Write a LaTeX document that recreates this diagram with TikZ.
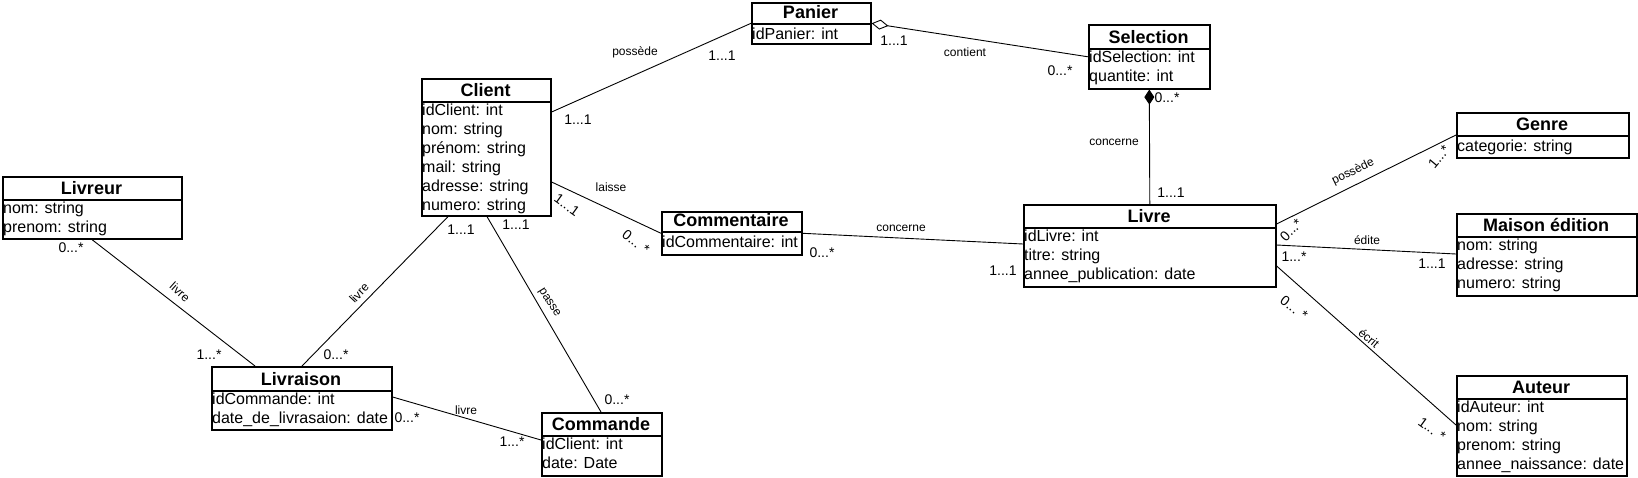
\documentclass[tikz,border=0pt]{standalone}
\usepackage{fontspec}
\setmainfont{Liberation Sans}
\usetikzlibrary{arrows.meta}
\newcommand{\umlclass}[8]{%
  \node[classbox, minimum width={#4-#2}, minimum height={#6-#3}] (#1) at (#2,#3) {};
  \draw[headline] (#2,#5) -- (#4,#5);
  \node[titletext] (#1-title) at ({(#2+#4)/2},{#5-5.5}) {#7};
  \node[attrtext] (#1-attrs) at (#2,#5) {#8};
}
\begin{document}
\begin{tikzpicture}[x=1pt,y=-1pt,
  classbox/.style={draw, line width=1.6pt, inner sep=0pt, anchor=north west},
  headline/.style={line width=1.3pt},
  titletext/.style={font=\fontsize{18}{21}\selectfont\bfseries, anchor=base, inner sep=0pt},
  attrtext/.style={font=\fontsize{16}{19}\selectfont, align=left, anchor=north west, inner xsep=1pt, inner ysep=1.5pt, execute at begin node=\strut},
  conn/.style={line width=0.9pt},
  mult/.style={font=\fontsize{14}{16}\selectfont, inner sep=0pt},
  assoc/.style={font=\fontsize{12}{14}\selectfont, inner sep=0pt},
]
\fill[white] (0,0) rectangle (1638,477);
\useasboundingbox (0,0) rectangle (1638,477);

\umlclass{panier}{751}{2}{870}{24}{43}{Panier}{idPanier: int}
\umlclass{selection}{1088}{24}{1209}{49}{88}{Selection}{idSelection: int\\quantite: int}
\umlclass{client}{421}{78}{550}{102}{215}{Client}{idClient: int\\nom: string\\prénom: string\\mail: string\\adresse: string\\numero: string}
\umlclass{livreur}{2}{176}{181}{200}{238}{Livreur}{nom: string\\prenom: string}
\umlclass{genre}{1456}{112}{1628}{136}{157}{Genre}{categorie: string}
\umlclass{commentaire}{661}{211}{801}{232}{254}{Commentaire}{idCommentaire: int}
\umlclass{livre}{1023}{204}{1275}{228}{286}{Livre}{idLivre: int\\titre: string\\annee\_publication: date}
\umlclass{maison}{1456}{213}{1636}{237}{295}{Maison édition}{nom: string\\adresse: string\\numero: string}
\umlclass{livraison}{211}{366}{391}{391}{429}{Livraison}{idCommande: int\\date\_de\_livrasaion: date}
\umlclass{commande}{541}{412}{661}{436}{475}{Commande}{idClient: int\\date: Date}
\umlclass{auteur}{1456}{375}{1626}{399}{475}{Auteur}{idAuteur: int\\nom: string\\prenom: string\\annee\_naissance: date}

% connectors
\draw[conn] ([yshift=-34pt]client.north east) -- (panier.west);
\draw[conn, {Diamond[open, length=17pt, width=10pt, line width=0.9pt]}-] (panier.east) -- (selection.west);
\draw[conn, {Diamond[length=15pt, width=10pt]}-] (selection.south) -- (livre.north);
\draw[conn] ([yshift=-104pt]client.north east) -- (commentaire.west);
\draw[conn] (commentaire.east) -- ([yshift=-40pt]livre.north west);
\draw[conn] ([xshift=27pt]client.south west) -- ([xshift=91pt]livraison.north west);
\draw[conn] ([xshift=66pt]client.south west) -- ([xshift=60pt]commande.north west);
\draw[conn] ([xshift=90pt]livreur.south west) -- ([xshift=44pt]livraison.north west);
\draw[conn] ([yshift=-31pt]livraison.north east) -- ([yshift=-28pt]commande.north west);
\draw[conn] ([yshift=-20pt]livre.north east) -- ([yshift=-23pt]genre.north west);
\draw[conn] ([yshift=-41pt]livre.north east) -- ([yshift=-41pt]maison.north west);
\draw[conn] ([yshift=-62pt]livre.north east) -- ([yshift=-50pt]auteur.north west);

% labels
\node[assoc] (l-possede1) at (635,52) {possède};
\node[mult] (m1a) at (722,56) {1...1};
\node[mult] (m1b) at (578,120) {1...1};
\node[assoc] (l-contient) at (965,52) {contient};
\node[mult] (m2a) at (894,41) {1...1};
\node[mult] (m2b) at (1060,71) {0...*};
\node[assoc] (l-concerne1) at (1114,142) {concerne};
\node[mult] (m3a) at (1167,98) {0...*};
\node[mult] (m3b) at (1171,193) {1...1};
\node[assoc] (l-laisse) at (611,187) {laisse};
\node[mult, rotate=-36] (m4a) at (567,205) {1...1};
\node[mult, rotate=-38] (m4b) at (636,242) {0... *};
\node[assoc] (l-concerne2) at (901,228) {concerne};
\node[mult] (m5a) at (822,253) {0...*};
\node[mult] (m5b) at (1003,271) {1...1};
\node[assoc, rotate=47] (l-livre1) at (359,293) {livre};
\node[mult] (m6a) at (461,230) {1...1};
\node[mult] (m6b) at (336,355) {0...*};
\node[assoc, rotate=-58] (l-passe) at (549,303) {passe};
\node[mult] (m7a) at (516,225) {1...1};
\node[mult] (m7b) at (617,400) {0...*};
\node[assoc, rotate=-42] (l-livre2) at (180,292) {livre};
\node[mult] (m8a) at (71,248) {0...*};
\node[mult] (m8b) at (209,355) {1...*};
\node[assoc] (l-livre3) at (466,410) {livre};
\node[mult] (m9a) at (407,418) {0...*};
\node[mult] (m9b) at (512,442) {1...*};
\node[assoc, rotate=26] (l-possede2) at (1353,172) {possède};
\node[mult, rotate=46] (m10a) at (1291,230) {0...*};
\node[mult, rotate=50] (m10b) at (1439,157) {1...*};
\node[assoc] (l-edite) at (1367,240) {édite};
\node[mult] (m11a) at (1294,257) {1...*};
\node[mult] (m11b) at (1432,264) {1...1};
\node[assoc, rotate=-40] (l-ecrit) at (1369,338) {écrit};
\node[mult, rotate=-37] (m12a) at (1294,308) {0... *};
\node[mult, rotate=-36] (m12b) at (1432,429) {1... *};
\end{tikzpicture}
\end{document}
